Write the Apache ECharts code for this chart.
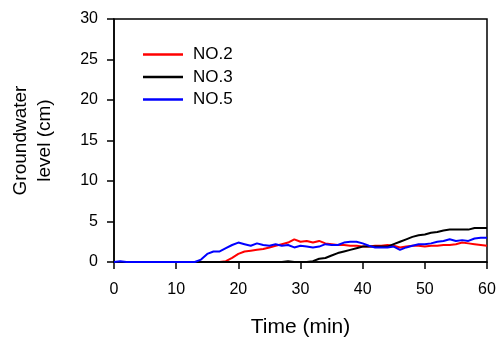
<!DOCTYPE html>
<html><head><meta charset="utf-8">
<script src="https://cdn.jsdelivr.net/npm/echarts@6/dist/echarts.min.js"></script>
<style>html,body{margin:0;padding:0;background:#fff}#c{width:498px;height:338px}</style>
</head><body><div id="c"></div>
<script>
var time = [];
for (var t = 0; t <= 60; t++) time.push(t);
var no2 = [0,0,0,0,0,0,0,0,0,0,0,0,0,0,0,0,0,0,0.1,0.5,1.0,1.3,1.4,1.5,1.6,1.8,2.0,2.2,2.4,2.8,2.5,2.6,2.4,2.6,2.3,2.2,2.1,2.1,2.0,2.0,1.9,1.9,2.0,2.0,2.1,2.0,1.8,1.9,2.0,2.0,1.9,2.0,2.0,2.1,2.1,2.2,2.4,2.3,2.2,2.1,2.0];
var no3 = [0,0,0,0,0,0,0,0,0,0,0,0,0,0,0,0,0,0,0,0,0,0,0,0,0,0,0,0,0.1,0,0,0,0.1,0.4,0.5,0.8,1.1,1.3,1.5,1.7,1.9,1.9,1.9,1.9,1.9,2.2,2.5,2.8,3.1,3.3,3.4,3.6,3.7,3.9,4.0,4.0,4.0,4.0,4.2,4.2,4.2];
var no5 = [0,0.1,0,0,0,0,0,0,0,0,0,0,0,0,0.3,1.0,1.3,1.3,1.7,2.1,2.4,2.2,2.0,2.3,2.1,2.0,2.2,2.0,2.1,1.8,2.0,1.9,1.8,1.9,2.2,2.1,2.1,2.4,2.5,2.5,2.3,2.0,1.8,1.8,1.8,1.9,1.5,1.8,2.0,2.2,2.2,2.3,2.5,2.6,2.8,2.6,2.7,2.6,2.9,3.0,3.0];
var names = ['NO.2','NO.3','NO.5'];
var colors = ['#ff0000','#000000','#0000ff'];
var xTicks = [0,10,20,30,40,50,60];
var yTicks = [0,5,10,15,20,25,30];

function pairs(v){ return time.map(function(t,i){ return [t, v[i]]; }); }
var font = 'Liberation Sans, Arial, sans-serif';
var chart = echarts.init(document.getElementById('c'));
chart.setOption({
  animation: false,
  grid: {left:114, right:11, top:19, bottom:76, containLabel:false, outerBoundsMode:'none', show:true, borderColor:'#000', borderWidth:1.5, backgroundColor:'transparent'},
  legend: {
    orient:'vertical', left:138, top:41, itemWidth:40, itemHeight:2.5, itemGap:5.5, icon:'rect',
    textStyle:{fontFamily:font, fontSize:17, color:'#000', padding:[0,0,0,5]},
    data: names
  },
  xAxis: {
    type:'value', min:xTicks[0], max:xTicks[xTicks.length-1], interval:10,
    name:'Time (min)', nameLocation:'middle', nameGap:55,
    nameTextStyle:{fontFamily:font, fontSize:21, color:'#000'},
    axisLine:{lineStyle:{color:'#000', width:1.5}},
    axisTick:{inside:false, length:7, lineStyle:{color:'#000', width:1.5}},
    axisLabel:{fontFamily:font, fontSize:16, color:'#000', margin:20},
    splitLine:{show:false}
  },
  yAxis: {
    type:'value', min:yTicks[0], max:yTicks[yTicks.length-1], interval:5,
    name:'Groundwater\nlevel (cm)', nameLocation:'middle', nameGap:57, nameRotate:90,
    nameTextStyle:{fontFamily:font, fontSize:19, color:'#000', lineHeight:24},
    axisLine:{lineStyle:{color:'#000', width:1.5}},
    axisTick:{inside:false, length:7, lineStyle:{color:'#000', width:1.5}},
    axisLabel:{fontFamily:font, fontSize:16, color:'#000', margin:16},
    splitLine:{show:false}
  },
  series: names.map(function(n,i){
    return {name:n, type:'line', showSymbol:false, symbol:'none', data:pairs([no2,no3,no5][i]),
      lineStyle:{color:colors[i], width:2}, itemStyle:{color:colors[i]}};
  })
});
</script></body></html>
